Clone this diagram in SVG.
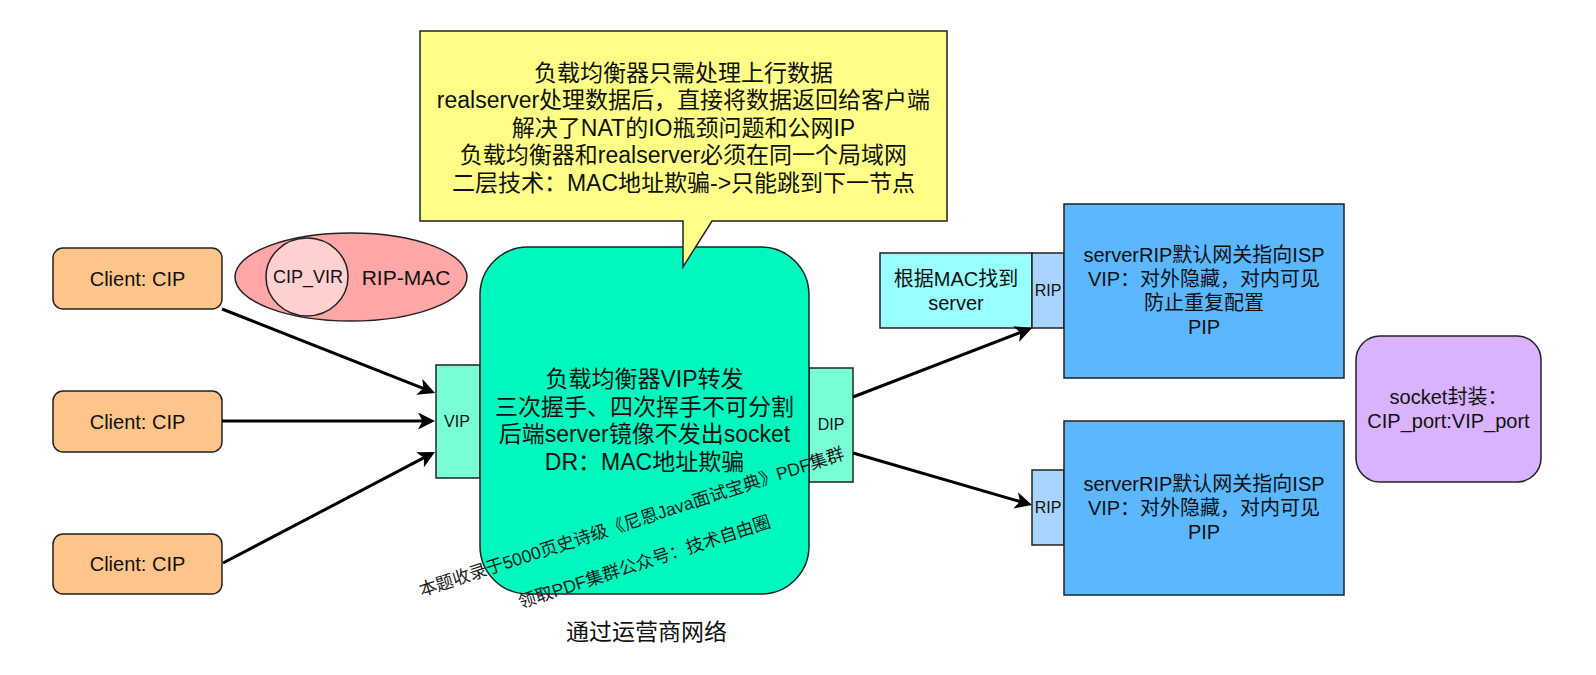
<svg xmlns="http://www.w3.org/2000/svg" width="1596" height="675" viewBox="0 0 1596 675">
<style>
.bx{stroke:#222;stroke-width:1.5}
.t{font-family:"Liberation Sans","Noto Sans CJK SC",sans-serif;fill:#111;text-anchor:middle;dominant-baseline:central}
.edge{stroke:#000;stroke-width:3;fill:none;marker-end:url(#arr)}
.client{fill:#FFC489}
.port{fill:#78FFD6}
.rip{fill:#A9D4FF}
.srv{fill:#5BB7FF}
</style>
<defs>
<marker id="arr" markerUnits="userSpaceOnUse" markerWidth="20" markerHeight="20" refX="9" refY="8.5" orient="auto" viewBox="0 0 20 20">
<path d="M0,0 L17,8.5 L0,17 L4.5,8.5 Z" fill="#000"/>
</marker>
</defs>
<rect width="1596" height="675" fill="#fff"/>

<g id="client1"><rect class="bx client" x="53" y="248" width="169" height="61" rx="10"/><text class="t" x="137.5" y="278.5" font-size="20">Client: CIP</text></g>
<g id="client2"><rect class="bx client" x="53" y="391" width="169" height="61" rx="10"/><text class="t" x="137.5" y="421.5" font-size="20">Client: CIP</text></g>
<g id="client3"><rect class="bx client" x="53" y="534" width="169" height="60" rx="10"/><text class="t" x="137.5" y="564" font-size="20">Client: CIP</text></g>

<g id="ripmac">
<ellipse class="bx" cx="351" cy="277" rx="116" ry="44" fill="#FFA6A6"/>
<ellipse class="bx" cx="307" cy="277" rx="41" ry="39" fill="#FFD0D0"/>
<text class="t" x="308" y="277" font-size="18">CIP_VIR</text>
<text class="t" x="406" y="277" font-size="21">RIP-MAC</text>
</g>

<g id="vip"><rect class="bx port" x="436" y="365" width="44" height="113"/><text class="t" x="457" y="421" font-size="16">VIP</text></g>
<g id="dip"><rect class="bx port" x="809" y="368" width="44" height="114"/><text class="t" x="831" y="424" font-size="16">DIP</text></g>

<g id="lb">
<rect class="bx" x="480" y="247" width="329" height="347" rx="48" fill="#00F8BF"/>
<text class="t" font-size="23"><tspan x="644.5" y="379">负载均衡器VIP转发</tspan><tspan x="644.5" y="406.6">三次握手、四次挥手不可分割</tspan><tspan x="644.5" y="434.2">后端server镜像不发出socket</tspan><tspan x="644.5" y="461.8">DR：MAC地址欺骗</tspan></text>
</g>

<g id="callout">
<path class="bx" d="M420,31 H947 V221 H712 L683,267 V221 H420 Z" fill="#FFFF88"/>
<text class="t" font-size="23"><tspan x="683.5" y="72.5">负载均衡器只需处理上行数据</tspan><tspan x="683.5" y="100">realserver处理数据后，直接将数据返回给客户端</tspan><tspan x="683.5" y="127.5">解决了NAT的IO瓶颈问题和公网IP</tspan><tspan x="683.5" y="155">负载均衡器和realserver必须在同一个局域网</tspan><tspan x="683.5" y="182.5">二层技术：MAC地址欺骗-&gt;只能跳到下一节点</tspan></text>
</g>

<g id="findmac"><rect class="bx" x="880" y="253" width="152" height="75" fill="#99FFFF"/><text class="t" font-size="20"><tspan x="956" y="278.5">根据MAC找到</tspan><tspan x="956" y="302.5">server</tspan></text></g>
<g id="rip1"><rect class="bx rip" x="1032" y="253" width="32" height="75"/><text class="t" x="1048" y="290.5" font-size="16">RIP</text></g>
<g id="server1"><rect class="bx srv" x="1064" y="204" width="280" height="174"/>
<text class="t" font-size="20"><tspan x="1204" y="255">serverRIP默认网关指向ISP</tspan><tspan x="1204" y="279">VIP：对外隐藏，对内可见</tspan><tspan x="1204" y="303">防止重复配置</tspan><tspan x="1204" y="327">PIP</tspan></text></g>

<g id="rip2"><rect class="bx rip" x="1032" y="470" width="32" height="75"/><text class="t" x="1048" y="507.5" font-size="16">RIP</text></g>
<g id="server2"><rect class="bx srv" x="1064" y="421" width="280" height="174"/>
<text class="t" font-size="20"><tspan x="1204" y="484">serverRIP默认网关指向ISP</tspan><tspan x="1204" y="508">VIP：对外隐藏，对内可见</tspan><tspan x="1204" y="532">PIP</tspan></text></g>

<g id="socket"><rect class="bx" x="1356" y="336" width="185" height="146" rx="24" fill="#D9B3FF"/>
<text class="t" font-size="20"><tspan x="1448.5" y="397">socket封装：</tspan><tspan x="1448.5" y="421">CIP_port:VIP_port</tspan></text></g>

<g id="isp"><text class="t" x="646.5" y="632" font-size="23">通过运营商网络</text></g>

<g id="connectors">
<path class="edge" d="M222,309 L427.6,390.1"/>
<path class="edge" d="M222,421 L427,421"/>
<path class="edge" d="M223,563 L427.9,455.7"/>
<path class="edge" d="M853,397 L1024.5,330.9"/>
<path class="edge" d="M853,453 L1024.3,502.8"/>
</g>

<g id="watermark" transform="translate(638,542) rotate(-18)">
<text class="t" font-size="17.6" style="fill:#1a1a1a"><tspan x="0" y="-21">本题收录于5000页史诗级《尼恩Java面试宝典》PDF集群</tspan><tspan x="0" y="21">领取PDF集群公众号：技术自由圈</tspan></text>
</g>
</svg>
